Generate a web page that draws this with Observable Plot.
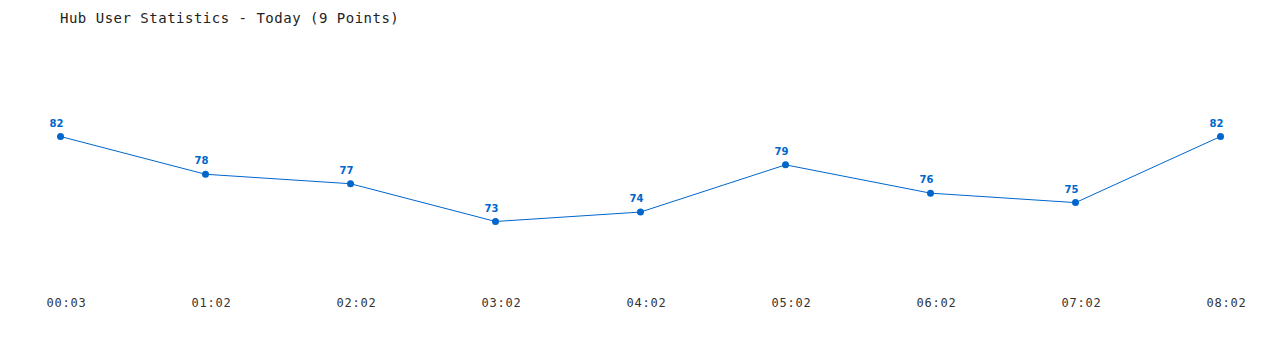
<!DOCTYPE html>
<html><head><meta charset="utf-8">
<script src="https://cdn.jsdelivr.net/npm/d3@7"></script>
<script src="https://cdn.jsdelivr.net/npm/@observablehq/plot@0.6"></script>
<style>
body{margin:0;background:#fff;}
#title{height:36px;box-sizing:border-box;padding-left:60px;padding-top:9px;font-family:"DejaVu Sans Mono",monospace;font-size:14px;letter-spacing:0.5px;color:#222;line-height:18px;}
#chart svg g[aria-label="x-axis tick label"] text{letter-spacing:0.8px;}
</style>
</head><body>
<div id="title">Hub User Statistics - Today (9 Points)</div>
<div id="chart"></div>
<script>
const times = ["00:03","01:02","02:02","03:02","04:02","05:02","06:02","07:02","08:02"];
const users = [82,78,77,73,74,79,76,75,82];
const data = times.map((t,i)=>({t, v: users[i]}));
const blue = "#0066cc";
const chart = Plot.plot({
  width: 1280, height: 314,
  marginLeft: 60, marginRight: 60, marginTop: 71.67, marginBottom: 100.67,
  x: {type: "point", domain: times, padding: 0, label: null},
  y: {domain: [70, 85], axis: null},
  style: {background: "#fff"},
  marks: [
    Plot.axisX({tickSize: 0, tickPadding: 49, dx: 6, fontSize: 12, fontFamily: "DejaVu Sans Mono, monospace", fill: "#333", label: null}),
    Plot.line(data, {x: "t", y: "v", stroke: blue, strokeWidth: 1}),
    Plot.dot(data, {x: "t", y: "v", fill: blue, r: 3.5}),
    Plot.text(data, {x: "t", y: "v", text: d => String(d.v), dy: -13, dx: -4, fill: blue, fontWeight: "bold", fontSize: 10, fontFamily: "DejaVu Sans, sans-serif"})
  ]
});
document.getElementById("chart").appendChild(chart);
</script>
</body></html>
